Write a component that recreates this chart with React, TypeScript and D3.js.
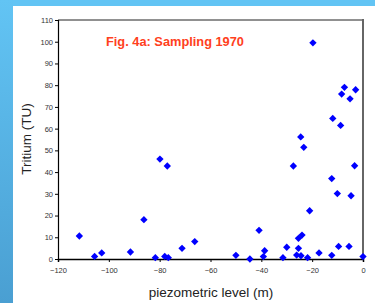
import * as d3 from 'd3';
import React, { useRef, useEffect } from 'react';

const level = [
  -111.6, -105.6, -102.8, -91.5, -86.2, -81.7, -79.9, -78.0, -77.0, -76.6,
  -71.2, -66.2, -50.0, -44.5, -40.9, -38.7, -39.2, -31.5, -30.0, -27.4,
  -26.1, -25.4, -25.4, -24.5, -24.4, -24.0, -23.3, -21.8, -21.0, -19.7,
  -17.3, -12.3, -12.3, -11.9, -10.1, -9.6, -8.8, -8.4, -7.3, -5.5,
  -5.1, -4.7, -3.3, -2.9, 0,
];
const tritium = [
  10.6, 1.2, 2.8, 3.2, 18.1, 0.6, 46.0, 1.2, 42.8, 0.6,
  4.9, 8.0, 1.7, 0, 13.2, 3.8, 1.1, 0.6, 5.4, 42.8,
  1.8, 4.9, 9.5, 56.2, 1.5, 11.0, 51.4, 0.6, 22.2, 99.5,
  2.8, 37.0, 1.7, 64.7, 30.1, 5.8, 61.5, 75.9, 79.0, 5.8,
  73.7, 29.1, 42.9, 77.9, 1.1,
];
const xTicks = [-120, -100, -80, -60, -40, -20, 0];
const yTicks = [0, 10, 20, 30, 40, 50, 60, 70, 80, 90, 100, 110];

const W = 375;
const H = 303;

const App = () => {
  const ref = useRef<SVGSVGElement>(null);

  useEffect(() => {
    const svg = d3.select(ref.current);
    svg.selectAll('*').remove();

    const defs = svg.append('defs');
    const grad = defs.append('linearGradient').attr('id', 'side')
      .attr('x1', 0).attr('y1', 0).attr('x2', 0).attr('y2', 1);
    grad.append('stop').attr('offset', '0%').attr('stop-color', '#62c4f4');
    grad.append('stop').attr('offset', '100%').attr('stop-color', '#4a9fd2');

    svg.append('rect').attr('width', W).attr('height', H).attr('fill', '#fff');
    svg.append('rect').attr('width', W).attr('height', 6).attr('fill', '#62c4f4');
    svg.append('rect').attr('width', 13).attr('height', H).attr('fill', 'url(#side)');

    const x = d3.scaleLinear().domain([-120, 0]).range([58, 363]);
    const y = d3.scaleLinear().domain([0, 110]).range([259, 20]);

    // plot frame
    svg.append('line').attr('x1', 58).attr('x2', 363).attr('y1', 20).attr('y2', 20)
      .attr('stroke', '#222').attr('stroke-width', 1);
    svg.append('line').attr('x1', 363).attr('x2', 363).attr('y1', 19).attr('y2', 259)
      .attr('stroke', '#666').attr('stroke-width', 2);

    const font = 'Liberation Sans, Arial, sans-serif';

    const yAxis = svg.append('g').attr('transform', 'translate(58,0)')
      .call(d3.axisLeft(y).tickValues(yTicks).tickSize(3).tickPadding(2));
    yAxis.select('.domain').attr('stroke', '#000').attr('stroke-width', 1.2);
    yAxis.selectAll('text').attr('font-size', 7.5).attr('font-family', font).attr('fill', '#333');

    const xAxis = svg.append('g').attr('transform', 'translate(0,259)')
      .call(d3.axisBottom(x).tickValues(xTicks).tickSize(3).tickPadding(6).tickFormat(d3.format('d')));
    xAxis.select('.domain').attr('stroke', '#000').attr('stroke-width', 1.5);
    xAxis.selectAll('text').attr('font-size', 7.5).attr('font-family', font).attr('fill', '#333');

    const diamond = d3.symbol().type(d3.symbolSquare).size(27);
    svg.append('g').selectAll('path')
      .data(level.map((v, i) => [v, tritium[i]]))
      .enter()
      .append('path')
      .attr('d', diamond)
      .attr('fill', '#0000ff')
      .attr('transform', (d) => `translate(${x(d[0])},${y(d[1])}) rotate(45)`);

    svg.append('text').attr('x', 106).attr('y', 45.5)
      .attr('font-family', font).attr('font-size', 12.8).attr('font-weight', 'bold')
      .attr('fill', '#ff4020').text('Fig. 4a: Sampling 1970');

    svg.append('text').attr('x', 211).attr('y', 297).attr('text-anchor', 'middle')
      .attr('font-family', font).attr('font-size', 13.5).attr('fill', '#222')
      .text('piezometric level (m)');

    svg.append('text').attr('transform', 'translate(31,139) rotate(-90)')
      .attr('text-anchor', 'middle')
      .attr('font-family', font).attr('font-size', 13.5).attr('fill', '#222')
      .text('Tritium (TU)');
  }, []);

  return <svg ref={ref} width={W} height={H} style={{ position: 'absolute', left: 0, top: 0 }} />;
};

export default App;
